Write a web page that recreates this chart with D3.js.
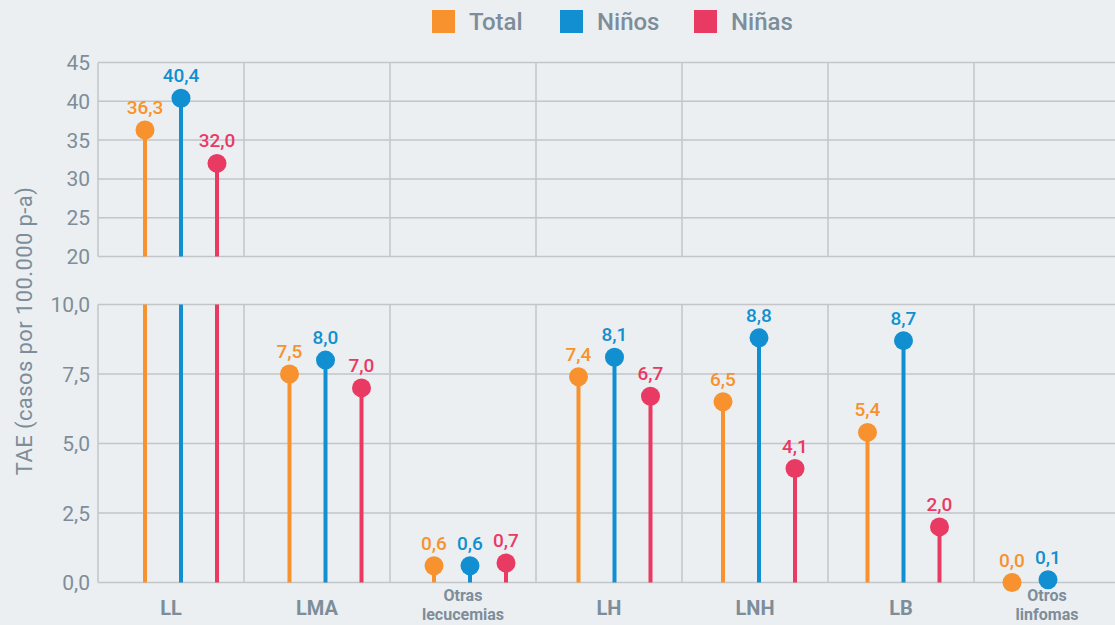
<!DOCTYPE html>
<html>
<head>
<meta charset="utf-8">
<script src="https://cdn.jsdelivr.net/npm/d3@7"></script>
<style>
  html, body { margin: 0; padding: 0; background: #ebeff1; }
  text { font-family: "Roboto", sans-serif; }
</style>
</head>
<body>
<div id="chart"></div>
<script>
// data
var categories = ["LL", "LMA", "Otras\nlecucemias", "LH", "LNH", "LB", "Otros\nlinfomas"];
var seriesNames = ["Total", "Niños", "Niñas"];
var totalVals = [36.3, 7.5, 0.6, 7.4, 6.5, 5.4, 0.0];
var ninosVals = [40.4, 8.0, 0.6, 8.1, 8.8, 8.7, 0.1];
var ninasVals = [32.0, 7.0, 0.7, 6.7, 4.1, 2.0, null];
var topTicks = [20, 25, 30, 35, 40, 45];
var bottomTicks = [0, 2.5, 5, 7.5, 10];

var colors = ["#f7922f", "#118fd0", "#e93a63"];
var textGray = "#7d8d9a";
var gridGray = "#c2c6c9";

var width = 1115, height = 625;

var svg = d3.select("#chart").append("svg")
    .attr("width", width)
    .attr("height", height);

var left = 98;
// gridline / label bands
var xGrid = d3.scaleBand().domain(categories).range([left, left + 7 * 146]);
// marker bands (slightly narrower than the grid)
var xMark = d3.scaleBand().domain(categories).range([108.75, 108.75 + 7 * 144.5]);
var xSeries = d3.scalePoint().domain(seriesNames).range([-36, 36]);

var yTop = d3.scaleLinear().domain([20, 45]).range([256.5, 62.5]);
var yBot = d3.scaleLinear().domain([0, 10]).range([582.5, 304.5]);

var fmt = function(v) { return d3.format(".1f")(v).replace(".", ","); };

// ---------- grids ----------
function panelGrid(y, ticks, tickFmt) {
  var g = svg.append("g");
  g.selectAll("line.h").data(ticks).enter().append("line")
    .attr("x1", left).attr("x2", width)
    .attr("y1", function(d) { return y(d); })
    .attr("y2", function(d) { return y(d); })
    .attr("stroke", gridGray).attr("stroke-width", 1.5);
  var vx = categories.map(function(c) { return xGrid(c); }).concat([left + 7 * 146]);
  g.selectAll("line.v").data(vx).enter().append("line")
    .attr("x1", function(d) { return d; }).attr("x2", function(d) { return d; })
    .attr("y1", y.range()[0]).attr("y2", y.range()[1])
    .attr("stroke", gridGray).attr("stroke-width", 1.5);
  g.selectAll("text").data(ticks).enter().append("text")
    .attr("x", left - 8)
    .attr("y", function(d) { return y(d); })
    .attr("dy", "0.36em")
    .attr("text-anchor", "end")
    .attr("fill", textGray)
    .style("font-size", "21px")
    .text(tickFmt);
}
panelGrid(yTop, topTicks, function(d) { return d; });
panelGrid(yBot, bottomTicks, fmt);

// ---------- stems & dots ----------
var points = [];
[totalVals, ninosVals, ninasVals].forEach(function(vals, si) {
  vals.forEach(function(v, ci) {
    if (v === null) return;
    points.push({ cat: categories[ci], s: seriesNames[si], si: si, v: v });
  });
});

function px(d) { return xMark(d.cat) + xMark.bandwidth() / 2 + xSeries(d.s); }
function py(d) { return d.v > 10 ? yTop(d.v) : yBot(d.v); }

var marks = svg.append("g");
points.forEach(function(d) {
  if (d.v > 10) {
    marks.append("line")
      .attr("x1", px(d)).attr("x2", px(d))
      .attr("y1", yBot(0)).attr("y2", yBot(10))
      .attr("stroke", colors[d.si]).attr("stroke-width", 4);
    marks.append("line")
      .attr("x1", px(d)).attr("x2", px(d))
      .attr("y1", yTop(20)).attr("y2", yTop(d.v))
      .attr("stroke", colors[d.si]).attr("stroke-width", 4);
  } else {
    marks.append("line")
      .attr("x1", px(d)).attr("x2", px(d))
      .attr("y1", yBot(0)).attr("y2", yBot(d.v))
      .attr("stroke", colors[d.si]).attr("stroke-width", 4);
  }
  marks.append("circle")
    .attr("cx", px(d)).attr("cy", py(d)).attr("r", 9.5)
    .attr("fill", colors[d.si]);
  marks.append("text")
    .attr("x", px(d)).attr("y", py(d) - 16)
    .attr("text-anchor", "middle")
    .attr("fill", colors[d.si])
    .style("font-size", "19px")
    .style("font-weight", "500")
    .text(fmt(d.v));
});

// ---------- category labels ----------
categories.forEach(function(c) {
  var lines = c.split("\n");
  var cx = xGrid(c) + xGrid.bandwidth() / 2;
  var ys = lines.length === 1 ? [615] : [601, 620];
  var fs = lines.length === 1 ? "20px" : "16px";
  lines.forEach(function(l, i) {
    svg.append("text")
      .attr("x", cx).attr("y", ys[i])
      .attr("text-anchor", "middle")
      .attr("fill", textGray)
      .style("font-size", fs)
      .style("font-weight", "bold")
      .text(l);
  });
});

// ---------- y title ----------
svg.append("text")
  .attr("transform", "translate(32,331) rotate(-90)")
  .attr("text-anchor", "middle")
  .attr("fill", textGray)
  .style("font-size", "22px")
  .style("letter-spacing", "0.4px")
  .text("TAE (casos por 100.000 p-a)");

// ---------- legend ----------
var legX = [432, 560, 694];
var leg = svg.append("g");
seriesNames.forEach(function(n, i) {
  leg.append("rect")
    .attr("x", legX[i]).attr("y", 10).attr("width", 23).attr("height", 23)
    .attr("fill", colors[i]);
  leg.append("text")
    .attr("x", legX[i] + 37).attr("y", 21.5)
    .attr("dy", "0.36em")
    .attr("fill", textGray)
    .style("font-size", "24px")
    .style("font-weight", "500")
    .text(n);
});
</script>
</body>
</html>
